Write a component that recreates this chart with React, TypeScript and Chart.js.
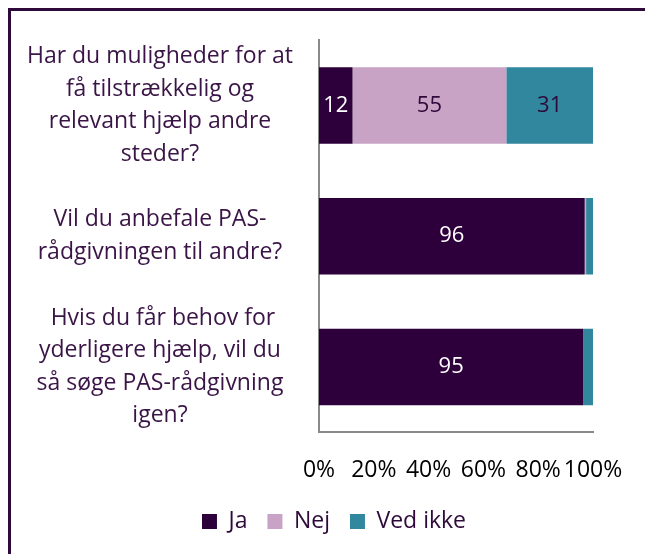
import React, { useEffect, useRef } from "react";
import { Chart, registerables } from "chart.js";

Chart.register(...registerables);

const categories: string[][] = [
  ["Har du muligheder for at", "få tilstrækkelig og", "relevant hjælp andre", "steder?"],
  ["Vil du anbefale PAS-", "rådgivningen til andre?"],
  [" Hvis du får behov for", "yderligere hjælp, vil du", "så søge PAS-rådgivning", "igen?"],
];
const seriesNames = ["Ja", "Nej", "Ved ikke"];
const jaValues = [12, 96, 95];
const nejValues = [55, 0.5, 0];
const vedIkkeValues = [31, 2.5, 3.5];
const xTicks = [0, 20, 40, 60, 80, 100];

const seriesColors = ["#2e003b", "#c9a3c6", "#31879d"];
const labelColors = ["#ffffff", "#2e0a3a", "#2e0a3a"];
const FONT = "'Open Sans', Lato, sans-serif";

export default function App() {
  const ref = useRef<HTMLCanvasElement | null>(null);

  useEffect(() => {
    if (!ref.current) return;
    const raw = [jaValues, nejValues, vedIkkeValues];
    const totals = jaValues.map((_, i) => raw.reduce((s, arr) => s + arr[i], 0));
    const pct = raw.map((arr) => arr.map((v, i) => (v / totals[i]) * 100));

    const labelPlugin = {
      id: "segLabels",
      afterLayout(chart: any) {
        const lg = chart.legend;
        if (lg) {
          lg.left += 32;
          lg.right += 32;
        }
      },
      afterDatasetsDraw(chart: any) {
        const ctx = chart.ctx;
        ctx.save();
        ctx.font = `22px ${FONT}`;
        ctx.textAlign = "center";
        ctx.textBaseline = "middle";
        chart.data.datasets.forEach((ds: any, di: number) => {
          const meta = chart.getDatasetMeta(di);
          meta.data.forEach((el: any, i: number) => {
            const v = raw[di][i];
            if (v < 5) return;
            const c = el.getCenterPoint();
            ctx.fillStyle = labelColors[di];
            ctx.fillText(String(v), c.x, c.y);
          });
        });
        ctx.restore();
      },
    };

    const chart = new Chart(ref.current, {
      type: "bar",
      data: {
        labels: categories,
        datasets: seriesNames.map((name, di) => ({
          label: name,
          data: pct[di],
          backgroundColor: seriesColors[di],
          borderWidth: 0,
          barPercentage: 0.585,
          categoryPercentage: 1,
        })),
      },
      options: {
        indexAxis: "y",
        animation: false,
        responsive: false,
        maintainAspectRatio: false,
        layout: { padding: { top: 29, right: 52, bottom: 11, left: 0 } },
        plugins: {
          tooltip: { enabled: false },
          legend: {
            position: "bottom",
            labels: {
              boxWidth: 15,
              boxHeight: 15,
              padding: 20,
              color: "#2e0a3a",
              font: { family: FONT, size: 23 },
            },
          },
        },
        scales: {
          x: {
            stacked: true,
            min: 0,
            max: 100,
            afterBuildTicks(axis: any) {
              axis.ticks = xTicks.map((v) => ({ value: v }));
            },
            afterFit(axis: any) {
              axis.height = axis.height - 18;
              axis.paddingLeft = 0;
              axis.paddingRight = 0;
            },
            grid: { display: false, drawTicks: false },
            border: { display: true, color: "#8a8a8a", width: 2 },
            ticks: {
              padding: 24,
              color: "#000000",
              font: { family: FONT, size: 23 },
              callback: (v: any) => `${v}%`,
              maxRotation: 0,
              autoSkip: false,
            },
          },
          y: {
            stacked: true,
            grid: { display: false, drawTicks: false },
            border: { display: true, color: "#8a8a8a", width: 2 },
            afterFit(axis: any) {
              axis.width = 308;
              axis.paddingTop = 0;
              axis.paddingBottom = 0;
            },
            ticks: {
              crossAlign: "center",
              padding: 26,
              color: "#3a1446",
              font: { family: FONT, size: 23, lineHeight: 1.413 },
              autoSkip: false,
            },
          },
        },
      },
      plugins: [labelPlugin],
    });
    return () => chart.destroy();
  }, []);

  return (
    <div
      style={{
        position: "fixed",
        left: 8,
        top: 8,
        borderTop: "3px solid #2e0a3a",
        borderLeft: "3px solid #2e0a3a",
        width: 634,
        height: 543,
        overflow: "hidden",
      }}
    >
      <canvas ref={ref} width={634} height={543} style={{ display: "block" }} />
    </div>
  );
}
